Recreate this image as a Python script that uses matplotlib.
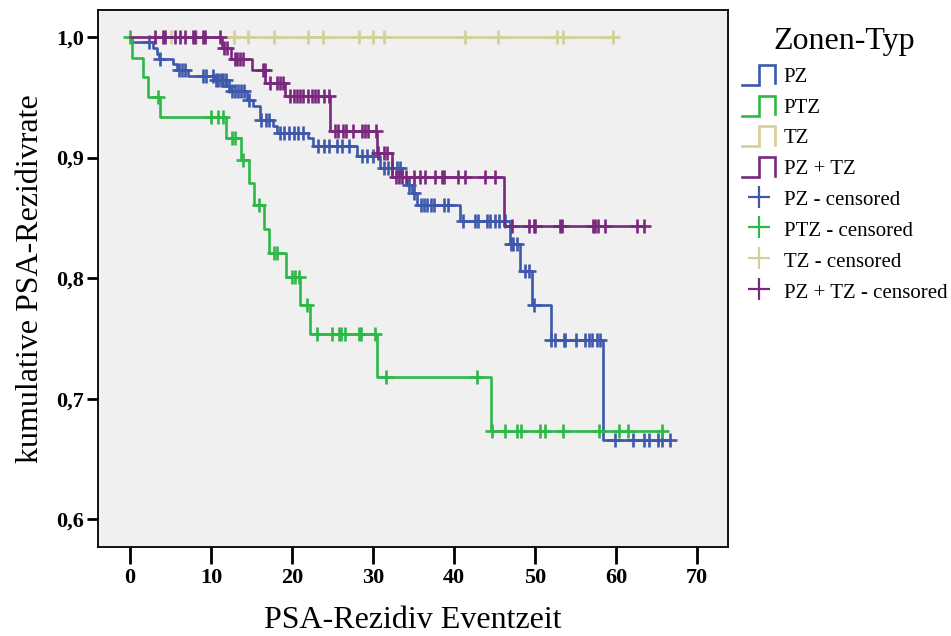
import numpy as np
import matplotlib
matplotlib.use("Agg")
import matplotlib.pyplot as plt
from matplotlib.lines import Line2D
from matplotlib.legend_handler import HandlerBase

plt.rcParams['font.family'] = ['Liberation Serif', 'DejaVu Serif']

# group names and colours
groups = ['PZ', 'PTZ', 'TZ', 'PZ + TZ']
colors = ['#3e58ac', '#2eb848', '#d3cf98', '#7a287d']

# PZ: event times / survival after event, censored times
pz_times = [0.3, 2.8, 3.3, 3.6, 5.3, 5.8, 7.2, 10.5, 11.9, 12.5, 14.4, 15.2, 16.0,
            17.7, 18.1, 22.0, 22.6, 28.0, 30.9, 33.6, 34.2, 34.8, 35.4, 40.7,
            46.9, 48.1, 49.6, 51.9, 58.4]
pz_surv = [0.9956, 0.991, 0.986, 0.9815, 0.978, 0.973, 0.968, 0.964, 0.959, 0.955,
           0.948, 0.943, 0.931, 0.926, 0.920, 0.916, 0.910, 0.901, 0.891, 0.884,
           0.877, 0.871, 0.861, 0.847, 0.828, 0.806, 0.778, 0.749, 0.666]
pz_cens = [2.3, 3.7, 6.0, 6.4, 6.8, 9.0, 9.4, 10.3, 10.6, 10.9, 11.2, 11.5, 11.8,
           12.2, 12.6, 12.9, 13.3, 13.7, 14.1, 14.7, 16.2, 16.8, 17.2, 18.5, 19.0,
           19.6, 20.2, 20.7, 21.3, 23.2, 24.0, 24.6, 25.5, 26.2, 27.0, 28.6, 29.3,
           30.0, 31.3, 31.8, 32.3, 32.9, 33.3, 34.4, 35.0, 35.9, 36.3, 36.7, 37.1,
           37.5, 38.7, 39.3, 41.1, 42.6, 43.0, 44.0, 44.4, 45.1, 45.5, 46.3, 47.0,
           47.3, 47.7, 48.8, 49.2, 49.8, 52.0, 52.5, 53.5, 53.7, 55.1, 56.2, 56.6,
           57.0, 57.6, 58.0, 59.9, 62.1, 63.4, 64.0, 65.2, 65.6, 66.7]

# PTZ
ptz_times = [0.3, 1.6, 2.2, 3.7, 11.9, 13.7, 14.7, 15.3, 16.5, 17.2, 19.3, 21.0,
             22.2, 30.5, 44.6]
ptz_surv = [0.983, 0.967, 0.950, 0.934, 0.916, 0.898, 0.879, 0.861, 0.841, 0.821,
            0.801, 0.778, 0.754, 0.718, 0.673]
ptz_cens = [0.0, 3.5, 10.0, 10.8, 11.5, 12.6, 12.9, 13.9, 15.9, 17.8, 18.1, 20.0,
            20.4, 20.8, 21.9, 23.1, 24.9, 25.8, 26.0, 26.5, 28.3, 28.5, 30.2, 31.6,
            42.8, 44.7, 46.3, 47.7, 48.2, 50.6, 51.2, 53.4, 57.9, 60.3, 61.5, 65.6]

# TZ (no events)
tz_times = []
tz_surv = []
tz_cens = [5.1, 8.2, 12.8, 14.6, 17.8, 22.0, 23.8, 28.3, 30.0, 31.3, 41.3, 45.4,
           52.7, 53.4, 59.6]

# PZ + TZ
pztz_times = [11.3, 12.5, 15.0, 16.7, 19.1, 24.7, 30.5, 32.3, 46.1]
pztz_surv = [0.991, 0.982, 0.973, 0.962, 0.951, 0.922, 0.9035, 0.8836, 0.843]
pztz_cens = [3.1, 4.1, 4.3, 5.6, 6.2, 6.8, 7.8, 8.0, 9.0, 9.3, 11.1, 11.6, 12.0,
             12.9, 13.2, 13.6, 14.0, 16.4, 16.6, 17.3, 18.1, 18.5, 18.9, 19.8, 20.2,
             20.6, 21.0, 21.4, 22.0, 22.4, 22.8, 23.2, 23.9, 24.6, 25.3, 25.7, 26.3,
             26.7, 27.5, 28.6, 29.0, 29.4, 30.4, 30.6, 31.3, 31.7, 32.8, 33.2, 33.6,
             34.0, 35.0, 35.8, 36.4, 37.7, 38.5, 38.7, 40.5, 41.4, 43.8, 45.1, 47.1,
             49.2, 49.8, 50.0, 53.1, 53.3, 57.2, 57.4, 57.8, 58.6, 62.6, 63.4]

data = [(pz_times, pz_surv, pz_cens), (ptz_times, ptz_surv, ptz_cens),
        (tz_times, tz_surv, tz_cens), (pztz_times, pztz_surv, pztz_cens)]


class StepHandler(HandlerBase):
    # little step icon like the SPSS legend
    def create_artists(self, legend, orig_handle, xdescent, ydescent, width,
                       height, fontsize, trans):
        x0, y0 = -xdescent, -ydescent
        xs = [x0, x0 + 0.52 * width, x0 + 0.52 * width, x0 + width, x0 + width]
        ys = [y0, y0, y0 + height, y0 + height, y0 + 0.08 * height]
        line = Line2D(xs, ys, color=orig_handle.get_color(), lw=1.9,
                      solid_joinstyle='miter')
        line.set_transform(trans)
        return [line]


fig = plt.figure(figsize=(9.51, 6.36), dpi=100)
ax = fig.add_axes([98 / 951, 1 - 547 / 636, 630 / 951, 537 / 636])
ax.set_facecolor('#f0f0f0')

for (times, surv, cens), col in zip(data, colors):
    times = np.array(times, dtype=float)
    levels = np.concatenate([[1.0], surv])
    end = max([0.0] + list(times) + list(cens))
    t = np.concatenate([[0.0], times, [end]])
    s = np.concatenate([levels, [levels[-1]]])
    ax.step(t, s, where='post', color=col, lw=1.9)
    cy = levels[np.searchsorted(times, cens, side='right')]
    ax.plot(cens, cy, linestyle='none', marker='+', color=col,
            markersize=10, markeredgewidth=1.9)

ax.set_xlim(-3.95, 73.8)
ax.set_ylim(0.577, 1.0224)
ax.set_yticks([0.6, 0.7, 0.8, 0.9, 1.0])
ax.set_yticklabels(['0,6', '0,7', '0,8', '0,9', '1,0'])
ax.set_xticks(range(0, 80, 10))
ax.tick_params(axis='both', direction='out', width=2.0, labelsize=16)
ax.tick_params(axis='x', length=12, pad=3)
ax.tick_params(axis='y', length=8, pad=2)
for lab in ax.get_xticklabels() + ax.get_yticklabels():
    lab.set_fontweight('bold')
for sp in ax.spines.values():
    sp.set_linewidth(1.3)

ax.set_xlabel('PSA-Rezidiv Eventzeit', fontsize=23, labelpad=13)
ax.set_ylabel('kumulative PSA-Rezidivrate', fontsize=23, labelpad=8)

step_handles = [Line2D([], [], color=c) for c in colors]
cens_handles = [Line2D([], [], color=c, marker='+', linestyle='none',
                       markersize=16, markeredgewidth=1.6) for c in colors]
labels = groups + [g + ' - censored' for g in groups]
handler_map = {h: StepHandler() for h in step_handles}
leg = fig.legend(step_handles + cens_handles, labels, handler_map=handler_map,
                 loc='upper left', bbox_to_anchor=(742 / 951, 1 - 27 / 636),
                 frameon=False, fontsize=15, title='Zonen-Typ',
                 title_fontsize=23, handlelength=1.6, handleheight=1.1,
                 handletextpad=0.4, labelspacing=0.42, borderpad=0,
                 borderaxespad=0)

fig.savefig('out.png', dpi=100)
